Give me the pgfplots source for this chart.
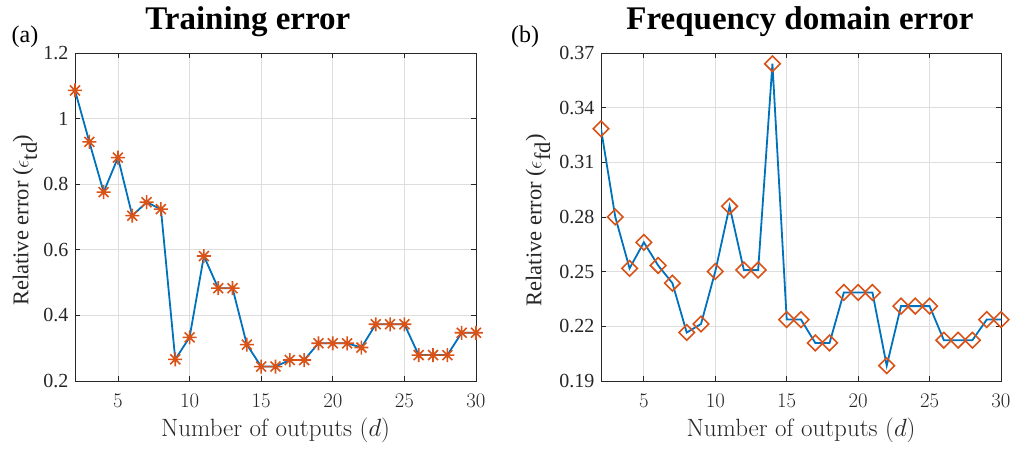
\documentclass[border=0pt]{standalone}
\usepackage{pgfplots}
\pgfplotsset{compat=1.18}
\usepackage{fontspec}
\setmainfont{Liberation Serif}
\newfontfamily\lmroman{Latin Modern Roman}

\definecolor{mblue}{rgb}{0,0.447,0.741}
\definecolor{morange}{rgb}{0.85,0.325,0.098}
\definecolor{axgray}{rgb}{0.15,0.15,0.15}

% eight-pointed asterisk (plus and cross)
\pgfdeclareplotmark{mstar}{%
  \pgfpathmoveto{\pgfqpoint{-\pgfplotmarksize}{0pt}}%
  \pgfpathlineto{\pgfqpoint{\pgfplotmarksize}{0pt}}%
  \pgfpathmoveto{\pgfqpoint{0pt}{-\pgfplotmarksize}}%
  \pgfpathlineto{\pgfqpoint{0pt}{\pgfplotmarksize}}%
  \pgfpathmoveto{\pgfqpoint{-0.7071\pgfplotmarksize}{-0.7071\pgfplotmarksize}}%
  \pgfpathlineto{\pgfqpoint{0.7071\pgfplotmarksize}{0.7071\pgfplotmarksize}}%
  \pgfpathmoveto{\pgfqpoint{-0.7071\pgfplotmarksize}{0.7071\pgfplotmarksize}}%
  \pgfpathlineto{\pgfqpoint{0.7071\pgfplotmarksize}{-0.7071\pgfplotmarksize}}%
  \pgfusepathqstroke}
% square diamond, open
\pgfdeclareplotmark{mdiamond}{%
  \pgfpathmoveto{\pgfqpoint{0pt}{\pgfplotmarksize}}%
  \pgfpathlineto{\pgfqpoint{\pgfplotmarksize}{0pt}}%
  \pgfpathlineto{\pgfqpoint{0pt}{-\pgfplotmarksize}}%
  \pgfpathlineto{\pgfqpoint{-\pgfplotmarksize}{0pt}}%
  \pgfpathclose
  \pgfusepathqstroke}

\pgfplotstableread{
d  err
2  1.086
3  0.929
4  0.776
5  0.881
6  0.704
7  0.745
8  0.724
9  0.266
10 0.333
11 0.581
12 0.483
13 0.483
14 0.311
15 0.244
16 0.244
17 0.264
18 0.264
19 0.315
20 0.315
21 0.315
22 0.302
23 0.373
24 0.373
25 0.373
26 0.279
27 0.279
28 0.279
29 0.347
30 0.347
}\trainerr

\pgfplotstableread{
d  err
2  0.3284
3  0.2800
4  0.2518
5  0.2661
6  0.2534
7  0.2437
8  0.2166
9  0.2213
10 0.2501
11 0.2859
12 0.2509
13 0.2509
14 0.3641
15 0.2237
16 0.2237
17 0.2109
18 0.2109
19 0.2386
20 0.2386
21 0.2386
22 0.1984
23 0.2311
24 0.2311
25 0.2311
26 0.2124
27 0.2124
28 0.2124
29 0.2237
30 0.2237
}\freqerr

\pgfplotsset{
  panel/.style={
    scale only axis, height=328pt,
    anchor=south west,
    clip mode=individual,
    xmin=2, xmax=30, xtick={5,10,...,30},
    grid=major,
    major grid style={draw=black!13, line width=0.8pt},
    axis line style={draw=axgray, line width=0.9pt},
    every tick/.style={draw=axgray, line width=0.9pt},
    tick align=inside, major tick length=5pt,
    xticklabel style={font=\fontsize{21}{24}\selectfont, text=axgray, yshift=-10pt},
    yticklabel style={font=\fontsize{20}{24}\selectfont, text=axgray, xshift=-3pt},
    yticklabel={\pgfmathprintnumber[assume math mode=true]{\tick}},
    xlabel style={font=\lmroman\fontsize{25}{28}\selectfont, text=axgray,
      at={(axis description cs:0.5,-0.17)}, anchor=base},
    ylabel style={font=\fontsize{22.5}{26}\selectfont, text=axgray, anchor=center},
    every axis title shift=0pt,
    title style={font=\bfseries\fontsize{33}{38}\selectfont, anchor=base},
    xlabel={Number of outputs $(d)$},
  },
}

\begin{document}
\begin{tikzpicture}
\begin{axis}[panel,
  at={(75pt,67pt)}, width=401pt,
  ymin=0.2, ymax=1.2, ytick={0.2,0.4,0.6,0.8,1,1.2},
  ylabel={Relative error ($\epsilon_{\textrm{td}}$)},
  ylabel style={at={(axis description cs:-0.1247,0.49)}},
  title={Training error},
  title style={at={(axis description cs:0.431,1.073)}},
]
\addplot[mblue, line width=1.8pt, mark=mstar, mark size=7pt,
  mark options={draw=morange, line width=1.6pt}] table[x=d, y=err] {\trainerr};
\node[font=\fontsize{24}{28}\selectfont, anchor=center]
  at (axis description cs:-0.1247,1.049) {(a)};
\end{axis}

\begin{axis}[panel,
  at={(601pt,67pt)}, width=400pt,
  ymin=0.19, ymax=0.37, ytick={0.19,0.22,0.25,0.28,0.31,0.34,0.37},
  ylabel={Relative error ($\epsilon_{\textrm{fd}}$)},
  ylabel style={at={(axis description cs:-0.1575,0.49)}},
  title={Frequency domain error},
  title style={at={(axis description cs:0.4975,1.073)}},
]
\addplot[mblue, line width=1.8pt, mark=mdiamond, mark size=7.8pt,
  mark options={draw=morange, line width=1.6pt}] table[x=d, y=err] {\freqerr};
\node[font=\fontsize{24}{28}\selectfont, anchor=center]
  at (axis description cs:-0.19,1.049) {(b)};
\end{axis}

\pgfresetboundingbox
\path[use as bounding box] (0,0) rectangle (1013pt,448pt);
\end{tikzpicture}
\end{document}
